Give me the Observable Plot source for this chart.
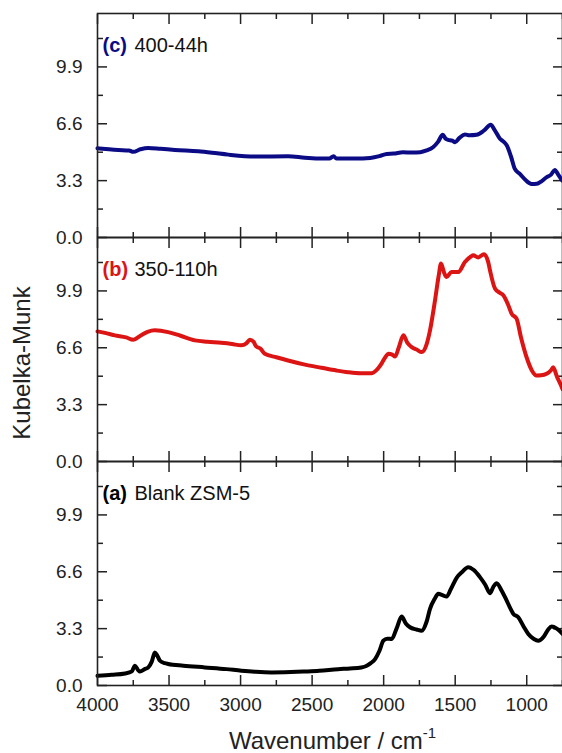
<!DOCTYPE html>
<html>
<head>
<meta charset="utf-8">
<script src="https://cdn.jsdelivr.net/npm/d3@7"></script>
<script src="https://cdn.jsdelivr.net/npm/@observablehq/plot@0.6"></script>
<style>
  body { margin: 0; background: #fff; font-family: "Liberation Sans", Arial, sans-serif; }
  #wrap { position: relative; width: 562px; height: 753px; overflow: hidden; background: #fff; }
  .panel { position: absolute; left: 0; }
  #ytitle { position: absolute; left: 22px; top: 363px; transform: translate(-50%, -50%) rotate(-90deg);
            font-size: 24px; line-height: 24px; white-space: nowrap; color: #222; }
  #xtitle { position: absolute; left: 100px; width: 465px; top: 729px; text-align: center;
            font-size: 24px; line-height: 24px; white-space: nowrap; color: #222; }
  #xtitle span { font-size: 15px; position: relative; top: -11px; }
</style>
</head>
<body>
<div id="wrap">
  <div id="pc" class="panel" style="top:0px"></div>
  <div id="pb" class="panel" style="top:237px"></div>
  <div id="pa" class="panel" style="top:461px"></div>
  <div id="ytitle">Kubelka-Munk</div>
  <div id="xtitle">Wavenumber / cm<span>-1</span></div>
</div>
<script>
// ---- data ----
const xDomain = [4000, 750];
const yDomain = [0, 13];
const xMajorTicks = [4000, 3500, 3000, 2500, 2000, 1500, 1000];
const xMinorTicks = [3750, 3250, 2750, 2250, 1750, 1250, 750];
const yMajorTicks = [0, 3.3, 6.6, 9.9];
const yMinorTicks = [1.65, 4.95, 8.25, 11.55];

const panelTags = ["(c)", "(b)", "(a)"];
const panelNames = ["400-44h", "350-110h", "Blank ZSM-5"];
const panelColors = ["#0b0b85", "#dc1414", "#000000"];

// (c) 400-44h
const wnC = [4000,3920,3855,3780,3750,3700,3645,3560,3459,3296,3200,3087,2900,2668,2550,2437,2380,2350,2330,2200,2094,2030,1978,1930,1865,1800,1744,1700,1655,1620,1587,1565,1550,1520,1501,1470,1432,1400,1350,1300,1252,1225,1187,1160,1140,1110,1083,1048,1010,966,930,908,860,830,804,780,760,750];
const kmC = [5.18,5.12,5.08,5.05,4.97,5.12,5.2,5.15,5.08,5.0,4.92,4.81,4.70,4.71,4.63,4.58,4.58,4.72,4.58,4.58,4.62,4.72,4.85,4.87,4.95,4.93,4.95,5.05,5.24,5.55,5.96,5.72,5.67,5.62,5.53,5.78,5.98,5.93,5.96,6.2,6.54,6.25,5.73,5.55,5.35,4.7,3.98,3.69,3.35,3.11,3.12,3.2,3.5,3.65,3.92,3.65,3.4,3.3];

// (b) 350-110h
const wnB = [4000,3940,3878,3800,3750,3700,3650,3599,3506,3420,3319,3230,3136,3060,2996,2960,2935,2910,2891,2860,2831,2750,2668,2550,2435,2330,2249,2160,2086,2050,2016,1985,1967,1940,1920,1895,1862,1835,1804,1770,1734,1700,1676,1641,1615,1599,1575,1560,1525,1478,1432,1390,1374,1339,1299,1270,1257,1222,1190,1164,1130,1106,1071,1040,1001,965,931,900,861,830,815,790,760,750];
const kmB = [7.55,7.45,7.32,7.2,7.06,7.3,7.52,7.61,7.51,7.3,7.03,6.95,6.89,6.82,6.74,6.85,7.06,6.95,6.68,6.55,6.25,6.05,5.86,5.62,5.44,5.28,5.18,5.12,5.12,5.3,5.67,6.1,6.25,6.2,6.09,6.6,7.32,6.9,6.64,6.5,6.35,6.8,7.61,9.35,10.8,11.49,10.9,10.71,11.0,11.0,11.58,11.9,11.97,11.84,12.03,11.6,11.1,10.04,9.8,9.65,9.1,8.58,8.29,7.2,6.05,5.3,4.99,5.0,5.09,5.3,5.47,4.95,4.41,4.2];

// (a) Blank ZSM-5
const wnA = [4000,3900,3808,3760,3738,3715,3703,3670,3645,3620,3599,3580,3564,3530,3506,3400,3250,3100,2994,2900,2784,2650,2551,2450,2319,2235,2156,2118,2090,2060,2030,2002,1975,1944,1910,1874,1845,1816,1770,1734,1700,1676,1645,1618,1590,1560,1530,1490,1450,1409,1370,1327,1290,1257,1235,1210,1175,1140,1110,1094,1059,1020,989,950,920,880,850,826,790,760,750];
const kmA = [0.56,0.62,0.70,0.82,1.15,0.88,0.81,0.95,1.05,1.4,1.92,1.7,1.44,1.3,1.25,1.15,1.05,0.95,0.86,0.8,0.76,0.78,0.81,0.85,0.95,0.99,1.05,1.15,1.3,1.53,2.0,2.6,2.72,2.70,3.3,4.0,3.6,3.38,3.25,3.18,3.7,4.45,5.0,5.32,5.25,5.16,5.6,6.25,6.6,6.87,6.7,6.29,5.85,5.36,5.7,5.94,5.5,4.93,4.4,4.16,3.96,3.4,2.99,2.7,2.6,2.85,3.25,3.42,3.3,3.09,3.0];

// ---- drawing ----
const FONT = '"Liberation Sans", Arial, sans-serif';
const AX = "#222";
const blank = () => "";

function panel({wn, km, idx, height, marginTop, marginBottom, showX}) {
  const data = wn.map((w, i) => ({w, k: km[i]}));
  const marks = [
    Plot.axisY({ticks: yMajorTicks, tickSize: 0, tickPadding: 15, tickFormat: d => d.toFixed(1), fontSize: 19, label: null, color: AX}),
    Plot.axisY({ticks: yMajorTicks, tickSize: -10, tickFormat: blank, label: null, stroke: AX, strokeWidth: 1.5}),
    Plot.axisY({ticks: yMinorTicks, tickSize: -6, tickFormat: blank, label: null, stroke: AX, strokeWidth: 1.5}),
    Plot.axisY({anchor: "right", ticks: yMajorTicks, tickSize: -10, tickFormat: blank, label: null, stroke: AX, strokeWidth: 1.5}),
    Plot.axisY({anchor: "right", ticks: yMinorTicks, tickSize: -6, tickFormat: blank, label: null, stroke: AX, strokeWidth: 1.5}),
    Plot.axisX({anchor: "bottom", ticks: xMajorTicks, tickSize: -10, tickFormat: blank, label: null, stroke: AX, strokeWidth: 1.5}),
    Plot.axisX({anchor: "bottom", ticks: xMinorTicks, tickSize: -5, tickFormat: blank, label: null, stroke: AX, strokeWidth: 1.5}),
    Plot.axisX({anchor: "top", ticks: xMajorTicks, tickSize: -10, tickFormat: blank, label: null, stroke: AX, strokeWidth: 1.5}),
    Plot.axisX({anchor: "top", ticks: xMinorTicks, tickSize: -5, tickFormat: blank, label: null, stroke: AX, strokeWidth: 1.5}),
    Plot.line(data, {x: "w", y: "k", stroke: panelColors[idx], strokeWidth: 4, curve: "monotone-x", strokeLinejoin: "round"}),
    Plot.frame({stroke: AX, strokeWidth: 1.6}),
    Plot.text([panelTags[idx]], {text: d => d, frameAnchor: "top-left", dx: 5, dy: 24, fill: panelColors[idx], fontWeight: "bold", fontSize: 20, textAnchor: "start"}),
    Plot.text([panelNames[idx]], {text: d => d, frameAnchor: "top-left", dx: 37, dy: 24, fill: "#111", fontSize: 20, textAnchor: "start"})
  ];
  if (showX) marks.push(Plot.axisX({anchor: "bottom", ticks: xMajorTicks, tickSize: 0, tickPadding: 12, tickFormat: d => String(d), fontSize: 19, label: null, color: AX}));
  return Plot.plot({
    width: 562, height, marginLeft: 97, marginRight: 0, marginTop, marginBottom,
    style: {background: "transparent", overflow: "visible", fontFamily: FONT, color: AX},
    x: {domain: xDomain, label: null},
    y: {domain: yDomain, label: null},
    marks
  });
}

document.getElementById("pc").append(panel({wn: wnC, km: kmC, idx: 0, height: 237, marginTop: 13, marginBottom: 0}));
document.getElementById("pb").append(panel({wn: wnB, km: kmB, idx: 1, height: 224, marginTop: 0, marginBottom: 0}));
document.getElementById("pa").append(panel({wn: wnA, km: kmA, idx: 2, height: 264, marginTop: 0, marginBottom: 40, showX: true}));
</script>
</body>
</html>
